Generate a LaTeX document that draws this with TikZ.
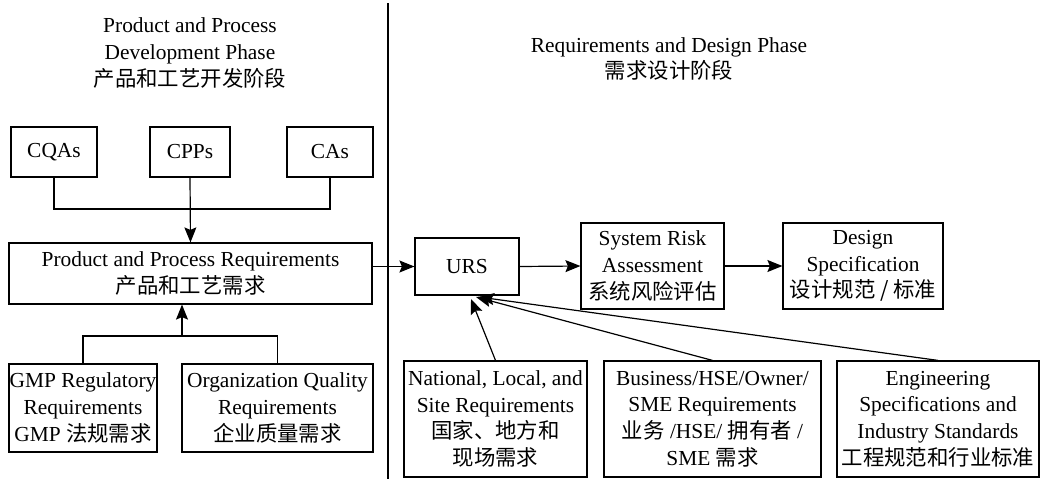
\documentclass[tikz,border=0pt]{standalone}
\usepackage{fontspec}
\setmainfont{Liberation Serif}
\newfontfamily\cjk{Noto Sans CJK SC}
\newcommand{\zh}[1]{{\cjk #1}}
\usetikzlibrary{arrows.meta}
\begin{document}
\begin{tikzpicture}[x=1pt,y=-1pt,
  txt/.style={align=center, inner sep=0pt, font=\fontsize{21.4}{26.7}\selectfont},
  box/.style={txt, draw, line width=1.2pt},
  link/.style={line width=1.2pt},
  arr/.style={link, -{Stealth[length=15pt,width=12pt,inset=2.5pt]}}]
\useasboundingbox[fill=white] (0,0) rectangle (1041,479);

% phase divider
\coordinate (divtop) at (388,3);
\coordinate (divbot) at (388,479);
\draw[line width=1.2pt] (divtop) -- (divbot);

% phase headings
\node[txt] (hleft) at (190,53) {Product and Process\\Development Phase\\\zh{产品和工艺开发阶段}};
\node[txt] (hright) at (669,59) {Requirements and Design Phase\\\zh{需求设计阶段}};

% product and process development phase
\node[box, minimum width=86pt, minimum height=50pt] (cqa) at (54,152) {CQAs};
\node[box, minimum width=80pt, minimum height=50pt] (cpp) at (190,152) {CPPs};
\node[box, minimum width=86pt, minimum height=50pt] (ca) at (330,152) {CAs};
\node[box, minimum width=363pt, minimum height=61pt] (ppr) at (190.5,273.5)
  {Product and Process Requirements\\\zh{产品和工艺需求}};
\node[box, minimum width=148pt, minimum height=88pt] (gmp) at (83,408)
  {GMP Regulatory\\Requirements\\GMP \zh{法规需求}};
\node[box, minimum width=191pt, minimum height=88pt] (oqr) at (277.5,408)
  {Organization Quality\\Requirements\\\zh{企业质量需求}};

\coordinate (jtop) at (190,209);
\coordinate (jbot) at (182,336);
\draw[link] (cqa.south) |- (jtop) -| (ca.south);
\draw[arr] (cpp.south) -- (ppr.north);
\draw[link] (gmp.north) |- (jbot) -| (oqr.north);
\draw[arr] (jbot) -- (jbot |- ppr.south);

% requirements and design phase
\node[box, minimum width=104pt, minimum height=57pt] (urs) at (467,266.5) {URS};
\node[box, minimum width=143pt, minimum height=86pt] (sra) at (652.5,266)
  {System Risk\\Assessment\\\zh{系统风险评估}};
\node[box, minimum width=160pt, minimum height=86pt] (ds) at (863,266)
  {Design\\Specification\\\zh{设计规范 / 标准}};
\node[box, minimum width=183pt, minimum height=116pt] (nat) at (495.5,419)
  {National, Local, and\\Site Requirements\\\zh{国家、地方和}\\\zh{现场需求}};
\node[box, minimum width=217pt, minimum height=116pt] (bus) at (712.5,419)
  {Business/HSE/Owner/\\SME Requirements\\\zh{业务} /HSE/ \zh{拥有者} /\\SME \zh{需求}};
\node[box, minimum width=202pt, minimum height=116pt] (eng) at (938,419)
  {Engineering\\Specifications and\\Industry Standards\\\zh{工程规范和行业标准}};

\draw[arr] (urs.west -| ppr.east) -- (urs.west);
\draw[arr] (urs.east) -- (sra.west);
\draw[arr] (sra.east) -- (ds.west);

\coordinate (t1) at (471,299);
\coordinate (t2) at (476,297);
\coordinate (t3) at (479,297);
\draw[arr] (nat.north) -- (t1);
\draw[arr] (bus.north) -- (t2);
\draw[arr] (eng.north) -- (t3);
\end{tikzpicture}
\end{document}
